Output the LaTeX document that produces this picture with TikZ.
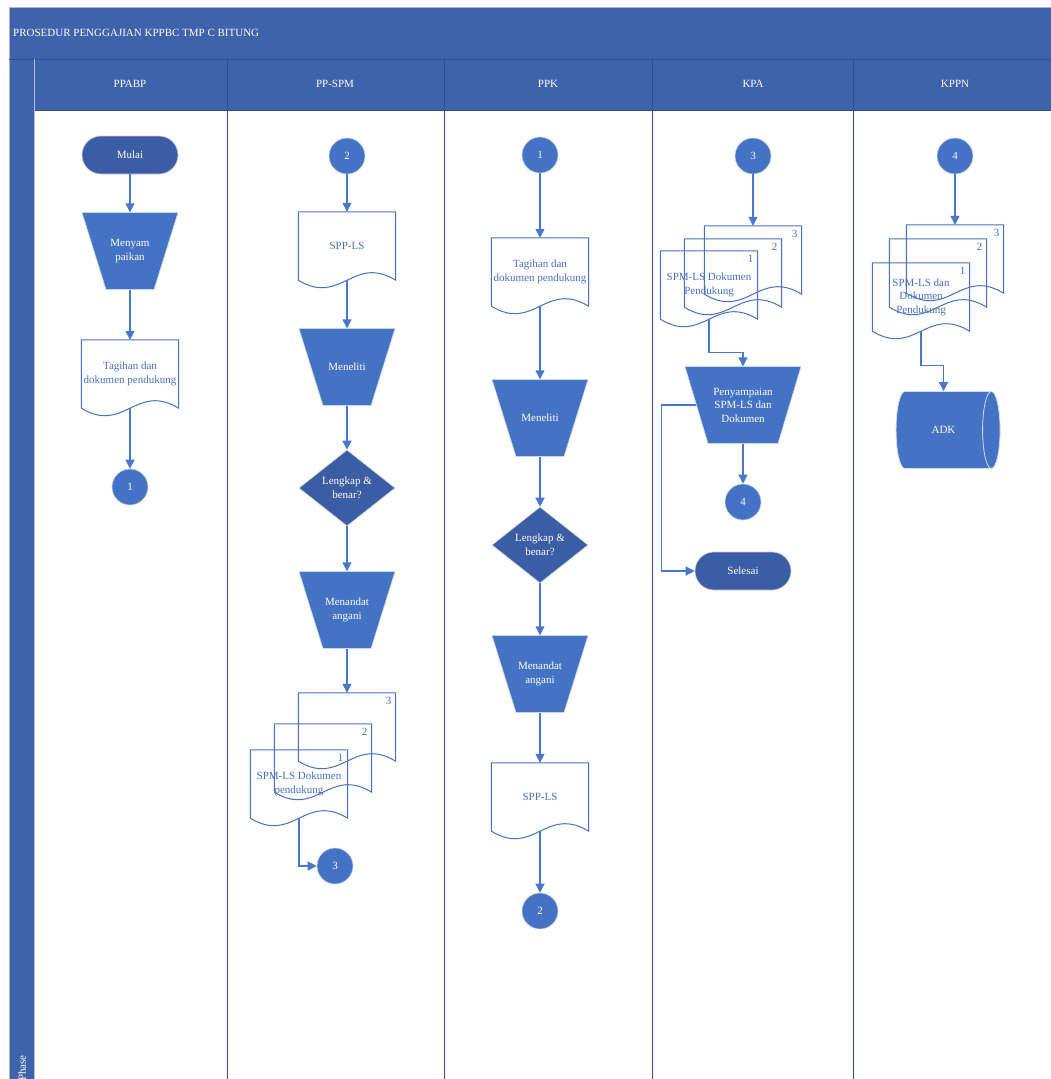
\documentclass[tikz,border=0pt]{standalone}
\usepackage{fontspec}
\setmainfont{Liberation Serif}
\usetikzlibrary{arrows.meta,shapes.geometric}
\definecolor{bandblue}{RGB}{62,99,172}
\definecolor{shapeblue}{RGB}{68,114,196}
\definecolor{darkblue}{RGB}{59,93,166}
\definecolor{lineblue}{RGB}{72,120,205}
\definecolor{laneline}{RGB}{48,80,138}
% name, x, y, half top width, half bottom width, text
\newcommand{\prosesbox}[6]{%
  \filldraw[procshape] ({#2-#4},{#3-38.5}) -- ({#2+#4},{#3-38.5}) -- ({#2+#5},{#3+38.5}) -- ({#2-#5},{#3+38.5}) -- cycle;
  \node[proctext,minimum width={#4+#5}] (#1) at (#2,#3) {#6};}

\begin{document}
\begin{tikzpicture}[x=1pt,y=-1pt,font=\fontsize{11}{13.5}\selectfont,>={Triangle[length=9pt,width=9pt]},
  headtext/.style={text=white,inner sep=1pt},
  flow/.style={->,draw=lineblue,line width=1.4pt},
  docline/.style={draw=shapeblue,line width=1pt},
  termbox/.style={rectangle,rounded corners=19pt,fill=darkblue,draw=white!70!darkblue,line width=0.6pt,text=white,minimum width=96pt,minimum height=38pt},
  procshape/.style={fill=shapeblue,draw=white!70!shapeblue,line width=0.6pt},
  proctext/.style={rectangle,text=white,align=center,minimum height=77pt,inner sep=1pt},
  decision/.style={diamond,fill=darkblue,draw=white!70!darkblue,line width=0.6pt,text=white,align=center,minimum width=96pt,minimum height=76pt,inner sep=0pt},
  connector/.style={circle,fill=shapeblue,draw=white!70!shapeblue,line width=0.6pt,text=white,minimum size=36pt,inner sep=0pt},
  docbox/.style={rectangle,text=shapeblue,align=center,minimum width=97pt,minimum height=68pt,inner sep=1pt},
  numtext/.style={text=shapeblue,inner sep=0pt},
  storage/.style={cylinder,cylinder uses custom fill,cylinder body fill=shapeblue,cylinder end fill=shapeblue,draw=white!75!shapeblue,line width=0.8pt,text=white,minimum width=77pt,minimum height=104pt,aspect=2.4,inner sep=0pt}]
\useasboundingbox (0,0) rectangle (1050,1079);
\fill[white] (0,0) rectangle (1050,1079);
\fill[bandblue] (9,7) rectangle (1060,110);
\fill[bandblue] (9,110) rectangle (34,1085);
\draw[gray!60,line width=0.8pt] (1060,7) -- (9,7) -- (9,1085);
\draw[laneline,line width=0.8pt] (9,59) -- (1060,59);
\draw[laneline,line width=0.8pt] (34,110) -- (1060,110);
\draw[white!60!bandblue,line width=0.8pt] (34,59) -- (34,1085);
\foreach \x in {227,444,652,853} \draw[laneline,line width=0.8pt] (\x,59) -- (\x,1085);
\node[headtext,anchor=west] (judul) at (12,33) {PROSEDUR PENGGAJIAN KPPBC TMP C BITUNG};
\node[headtext] (hppabp) at (130,84) {PPABP};
\node[headtext] (hppspm) at (335,84) {PP-SPM};
\node[headtext] (hppk) at (548,84) {PPK};
\node[headtext] (hkpa) at (753,84) {KPA};
\node[headtext] (hkppn) at (955,84) {KPPN};
\node[headtext,rotate=90] (phase) at (22,1068) {Phase};

\node[termbox] (mulai) at (130,155) {Mulai};
\prosesbox{susun}{130}{251}{48}{24}{Menyam\\paikan}
\node[docbox] (tagih1) at (130,374) {Tagihan dan\\dokumen pendukung};
\node[connector] (ca1) at (130,487) {1};

\node[connector] (cb2) at (347,156) {2};
\node[docbox] (spp1) at (347,246) {SPP-LS};
\prosesbox{teliti1}{347}{367}{48}{24}{Meneliti}
\node[decision] (cek1) at (347,488) {Lengkap \&\\benar?};
\prosesbox{ttd1}{347}{610}{48}{24}{Menandat\\angani}
\node[docbox] (spm3) at (347,727) {};
\node[docbox] (spm2) at (323,758) {};
\node[docbox] (spm1) at (299,784) {SPM-LS Dokumen\\pendukung};
\node[connector] (cb3) at (335,866) {3};

\node[connector] (cc1) at (540,155) {1};
\node[docbox] (tagih2) at (540,272) {Tagihan dan\\dokumen pendukung};
\prosesbox{teliti2}{540}{418}{48}{24}{Meneliti}
\node[decision] (cek2) at (540,545) {Lengkap \&\\benar?};
\prosesbox{ttd2}{540}{674}{48}{24}{Menandat\\angani}
\node[docbox] (spp2) at (540,797) {SPP-LS};
\node[connector] (cc2) at (540,911) {2};

\node[connector] (cd3) at (753,156) {3};
\node[docbox] (kpa3) at (753,260) {};
\node[docbox] (kpa2) at (733,273) {};
\node[docbox] (kpa1) at (709,285) {SPM-LS Dokumen\\Pendukung};
\prosesbox{kirim}{743}{405}{58}{35}{Penyampaian\\SPM-LS dan\\Dokumen}
\node[connector] (cd4) at (743,502) {4};
\node[termbox] (selesai) at (743,571) {Selesai};

\node[connector] (ce4) at (955,156) {4};
\node[docbox] (kppn3) at (955,259) {};
\node[docbox] (kppn2) at (938,273) {};
\node[docbox] (kppn1) at (921,297) {SPM-LS dan\\Dokumen\\Pendukung};
\node[storage] (adk) at (943.5,430) {ADK};

\foreach \d in {tagih1,spp1,spm3,spm2,spm1,tagih2,spp2,kpa3,kpa2,kpa1,kppn3,kppn2,kppn1}
  \draw[docline] (\d.south west) -- (\d.north west) -- (\d.north east) -- (\d.south east)
    .. controls +(-43,-26) and +(43,26) .. (\d.south west);
\foreach \d/\n in {spm3/3,spm2/2,spm1/1,kpa3/3,kpa2/2,kpa1/1,kppn3/3,kppn2/2,kppn1/1}
  \node[numtext] (\d-num) at ([shift={(-7,8)}]\d.north east) {\n};

\draw[flow] (mulai) -- (susun);
\draw[flow] (susun) -- (tagih1);
\draw[flow] (tagih1) -- (ca1);
\draw[flow] (cb2) -- (spp1);
\draw[flow] (spp1) -- (teliti1);
\draw[flow] (teliti1) -- (cek1);
\draw[flow] (cek1) -- (ttd1);
\draw[flow] (ttd1) -- (spm3);
\draw[flow] (spm1.south) |- (cb3.west);
\draw[flow] (cc1) -- (tagih2);
\draw[flow] (tagih2) -- (teliti2);
\draw[flow] (teliti2) -- (cek2);
\draw[flow] (cek2) -- (ttd2);
\draw[flow] (ttd2) -- (spp2);
\draw[flow] (spp2) -- (cc2);
\draw[flow] (cd3) -- (kpa3);
\draw[flow] (kpa1.south) -- ++(0,33) -| (kirim.north);
\draw[flow] (kirim) -- (cd4);
\draw[flow] (kirim.west) -- ++(-35,0) |- (selesai.west);
\draw[flow] (ce4) -- (kppn3);
\draw[flow] (kppn1.south) -- ++(0,34) -| (adk.north);
\end{tikzpicture}
\end{document}
